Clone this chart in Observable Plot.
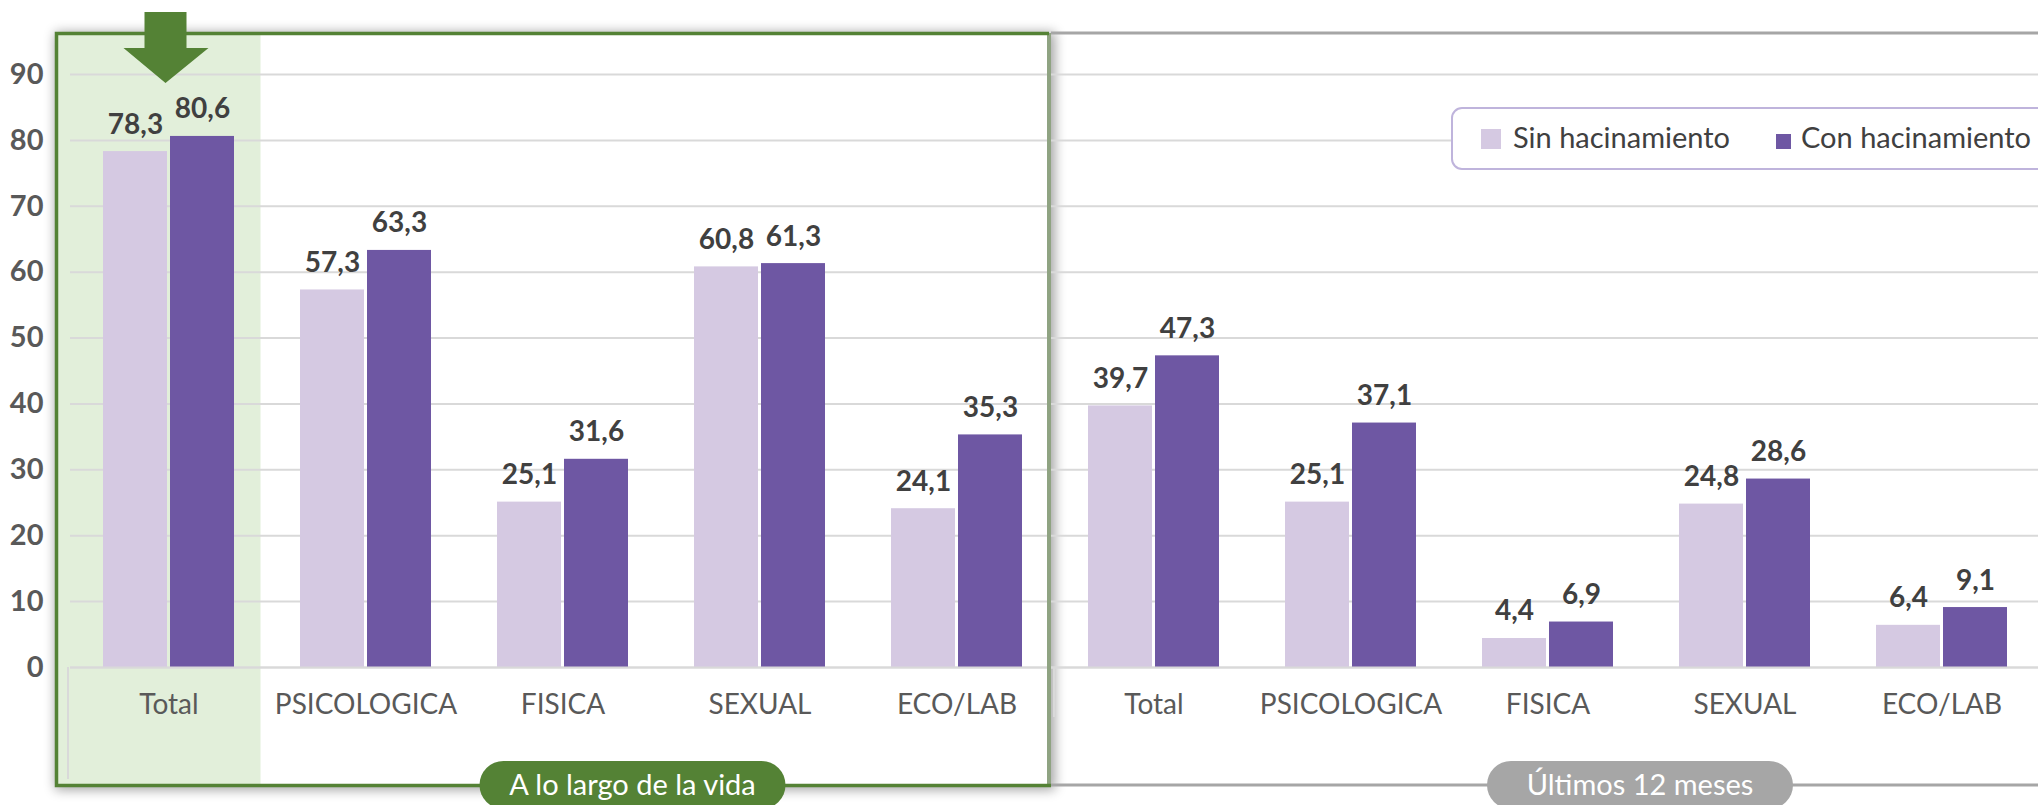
<!DOCTYPE html>
<html>
<head>
<meta charset="utf-8">
<script src="https://cdn.jsdelivr.net/npm/d3@7"></script>
<script src="https://cdn.jsdelivr.net/npm/@observablehq/plot@0.6"></script>
<style>
  html, body { margin: 0; padding: 0; background: #fff; overflow: hidden; }
  #wrap { position: relative; width: 2038px; height: 805px; overflow: hidden; font-family: Lato, sans-serif; }
  #wrap > svg { position: absolute; left: 0; top: 0; }
</style>
</head>
<body>
<div id="wrap"></div>
<script>
// ---- data ----
const periods = ["A lo largo de la vida", "Últimos 12 meses"];
const categories = ["Total", "PSICOLOGICA", "FISICA", "SEXUAL", "ECO/LAB"];
const series = ["Sin hacinamiento", "Con hacinamiento"];
const sinVida = [78.3, 57.3, 25.1, 60.8, 24.1];
const conVida = [80.6, 63.3, 31.6, 61.3, 35.3];
const sin12 = [39.7, 25.1, 4.4, 24.8, 6.4];
const con12 = [47.3, 37.1, 6.9, 28.6, 9.1];
const yTicks = [0, 10, 20, 30, 40, 50, 60, 70, 80, 90];
const colors = ["#d5c9e2", "#6e57a3"];

// ---- table ----
const keys = [];
const data = [];
[[sinVida, conVida], [sin12, con12]].forEach(([s, c], p) => {
  categories.forEach((cat, i) => {
    const key = periods[p] + "|" + cat;
    keys.push(key);
    data.push({key, series: series[0], value: s[i]});
    data.push({key, series: series[1], value: c[i]});
  });
});
const fmt = v => v.toFixed(1).replace(".", ",");

const W = 2044, H = 805;
const chart = Plot.plot({
  width: W, height: H,
  marginLeft: 68, marginRight: 2, marginTop: 74, marginBottom: 138,
  style: {fontFamily: "Lato, sans-serif", background: "transparent", maxWidth: "none", overflow: "visible"},
  fx: {domain: keys, padding: 0, label: null},
  x: {domain: series, paddingInner: 0.044, paddingOuter: 0.473, axis: null},
  y: {domain: [0, 90], axis: null},
  color: {domain: series, range: colors},
  marks: [
    Plot.gridY(yTicks, {stroke: "#d9d9d9", strokeWidth: 2, strokeOpacity: 1}),
    Plot.barY(data, {fx: "key", x: "series", y: "value", fill: "series"}),
    Plot.ruleY([0], {stroke: "#d9d9d9", strokeWidth: 2}),
    Plot.text(data, {fx: "key", x: "series", y: "value", text: d => fmt(d.value), dy: -27,
      fontSize: 28, fontWeight: "bold", fill: "#404040", lineAnchor: "middle"}),
    Plot.axisY(yTicks, {anchor: "left", tickSize: 0, tickPadding: 27, fontSize: 29, fontWeight: "bold",
      color: "#595959", label: null, tickFormat: d => String(d)}),
    Plot.axisFx({anchor: "bottom", tickSize: 0, tickPadding: 27, fontSize: 28, color: "#595959",
      label: null, tickFormat: k => k.split("|")[1]})
  ]
});

const wrap = d3.select("#wrap");
const fxs = chart.scale("fx");
const bw = fxs.bandwidth;
const totalCenter = fxs.apply(keys[0]) + bw / 2;

// ---- background layer ----
const bg = wrap.append("svg").attr("width", 2038).attr("height", H);
const defs = bg.append("defs");
defs.append("filter").attr("id", "sh").attr("x", "-10%").attr("y", "-10%").attr("width", "120%").attr("height", "120%")
  .append("feGaussianBlur").attr("stdDeviation", 6);
bg.append("rect").attr("x", 55).attr("y", 32).attr("width", 1000).attr("height", 758)
  .attr("fill", "#000").attr("opacity", 0.35).attr("filter", "url(#sh)");
bg.append("rect").attr("x", 56).attr("y", 33).attr("width", 995).attr("height", 752).attr("fill", "#fff");
bg.append("rect").attr("x", 58).attr("y", 35).attr("width", totalCenter + 92 - 58).attr("height", 749).attr("fill", "#e2efda");

// ---- plot layer ----
wrap.node().appendChild(chart);

// ---- foreground layer ----
const fg = wrap.append("svg").attr("width", 2038).attr("height", H);
// category axis dividers
fg.append("line").attr("x1", 68).attr("x2", 68).attr("y1", 667).attr("y2", 779).attr("stroke", "#d9d9d9").attr("stroke-width", 2);
fg.append("line").attr("x1", 1054).attr("x2", 1054).attr("y1", 667).attr("y2", 717).attr("stroke", "#d9d9d9").attr("stroke-width", 2);
// gray frame
fg.append("line").attr("x1", 1051).attr("x2", 2038).attr("y1", 33).attr("y2", 33).attr("stroke", "#a6a6a6").attr("stroke-width", 3);
fg.append("line").attr("x1", 1051).attr("x2", 2038).attr("y1", 785).attr("y2", 785).attr("stroke", "#a6a6a6").attr("stroke-width", 3);
// green frame
fg.append("line").attr("x1", 1049).attr("x2", 1049).attr("y1", 33).attr("y2", 786).attr("stroke", "#8fa382").attr("stroke-width", 4);
fg.append("path").attr("d", "M1049,33.5 H56.5 V785.5 H1051").attr("fill", "none").attr("stroke", "#548235").attr("stroke-width", 3.5);
// arrow
const ax = totalCenter - 3;
fg.append("path").attr("d", `M${ax-21},12 H${ax+21} V48 H${ax+43} L${ax},83 L${ax-42},48 H${ax-21} Z`).attr("fill", "#548235");
// pills
function pill(cx, color, label) {
  fg.append("rect").attr("x", cx - 153).attr("y", 761).attr("width", 306).attr("height", 48).attr("rx", 24).attr("fill", color);
  fg.append("text").attr("x", cx).attr("y", 795).attr("text-anchor", "middle").attr("fill", "#fff")
    .attr("font-family", "Lato, sans-serif").attr("font-size", 29).text(label);
}
pill(632.5, "#548235", periods[0]);
pill(1640, "#a6a6a6", periods[1]);
// legend
fg.append("rect").attr("x", 1452).attr("y", 108).attr("width", 640).attr("height", 61).attr("rx", 10)
  .attr("fill", "#fff").attr("stroke", "#bfb4dc").attr("stroke-width", 2);
fg.append("rect").attr("x", 1481).attr("y", 129).attr("width", 20).attr("height", 20).attr("fill", colors[0]);
fg.append("text").attr("x", 1513).attr("y", 148).attr("fill", "#404040").attr("font-family", "Lato, sans-serif")
  .attr("font-size", 29).text(series[0]);
fg.append("rect").attr("x", 1776).attr("y", 134).attr("width", 15).attr("height", 15).attr("fill", colors[1]);
fg.append("text").attr("x", 1801).attr("y", 148).attr("fill", "#404040").attr("font-family", "Lato, sans-serif")
  .attr("font-size", 29).text(series[1]);
</script>
</body>
</html>
